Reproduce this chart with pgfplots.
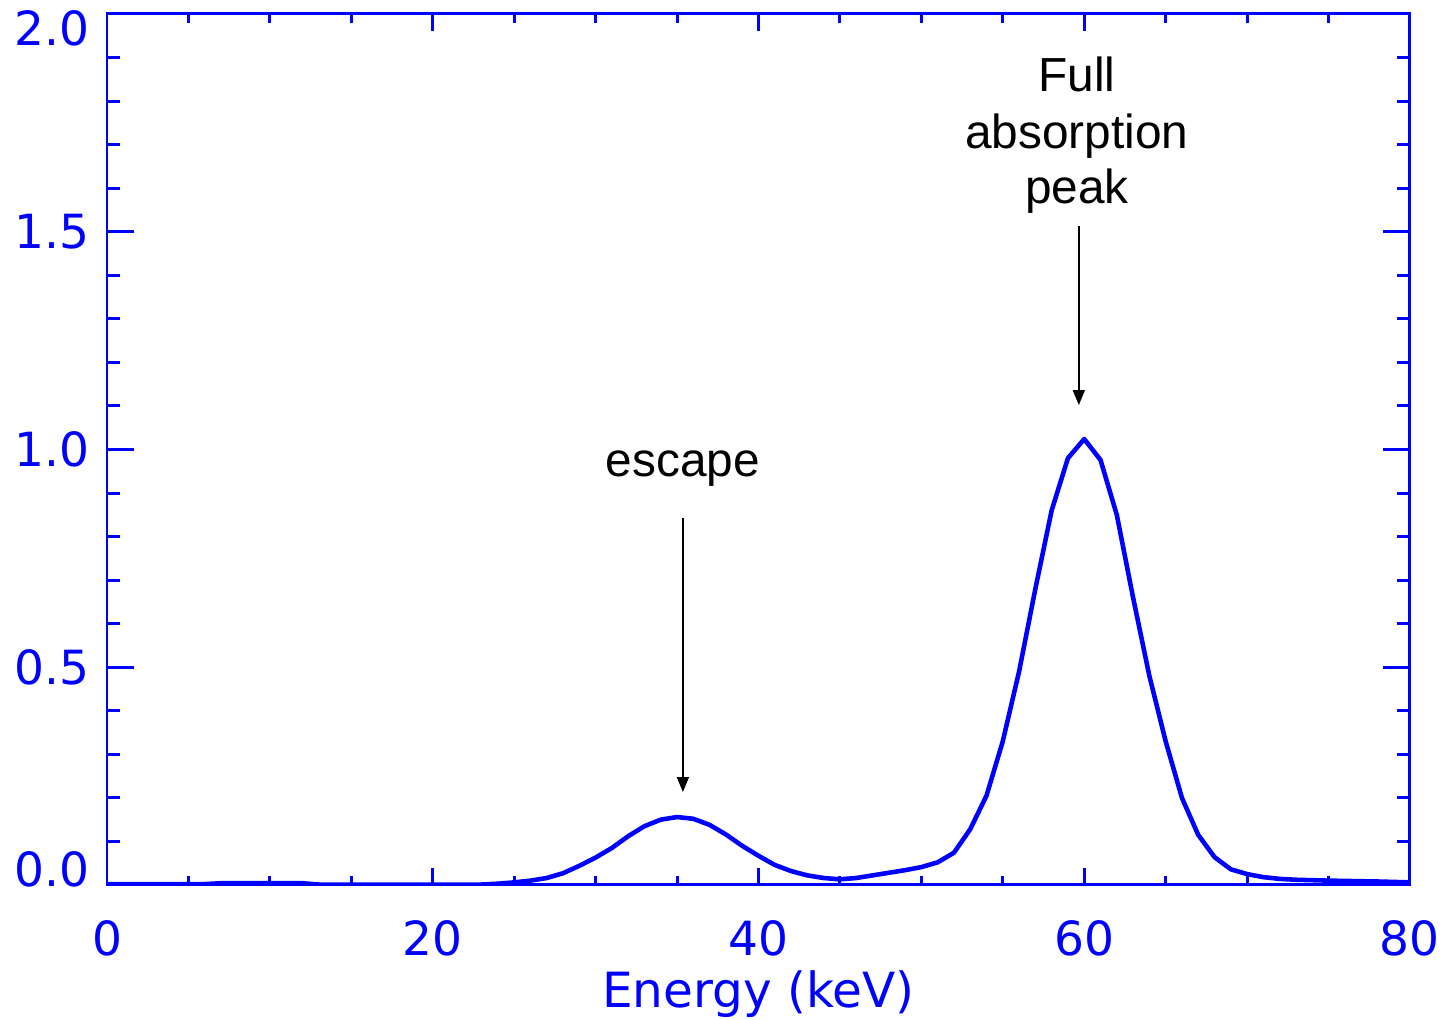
\documentclass[border=0pt]{standalone}
\usepackage{fontspec}
\setmainfont{Liberation Sans}
\newfontfamily\idlfont{DejaVu Sans}
\usepackage{pgfplots}
\pgfplotsset{compat=1.18}
\usetikzlibrary{arrows.meta}

\pgfplotstableread{
x y
0 0.002
6 0.002
7 0.004
12 0.004
13 0.001
23 0.001
24 0.003
25 0.006
26 0.010
27 0.016
28 0.027
29 0.044
30 0.063
31 0.085
32 0.112
33 0.135
34 0.150
35 0.156
36 0.152
37 0.138
38 0.116
39 0.090
40 0.067
41 0.046
42 0.032
43 0.022
44 0.016
45 0.013
46 0.016
47 0.022
48 0.028
49 0.034
50 0.041
51 0.052
52 0.074
53 0.128
54 0.205
55 0.330
56 0.490
57 0.680
58 0.860
59 0.980
60 1.024
61 0.976
62 0.850
63 0.660
64 0.480
65 0.330
66 0.200
67 0.115
68 0.064
69 0.036
70 0.025
71 0.018
72 0.014
73 0.012
75 0.010
78 0.008
80 0.006
}\spectrum

\pgfplotsset{
  idlbox/.style={
    scale only axis, width=130.3mm, height=87.1mm,
    xmin=0, xmax=80, ymin=0, ymax=2,
    axis line style={blue, line width=0.85pt},
    every tick/.style={blue, line width=0.85pt},
    tick align=inside,
    ticklabel style={font=\idlfont\fontsize{13.4}{15}\selectfont, text=blue, inner sep=0pt},
  },
}
\tikzset{note/.style={anchor=base, inner sep=0pt, font=\fontsize{13.6}{16}\selectfont}}

\begin{document}
\begin{tikzpicture}
\useasboundingbox (-10.7mm,-13.5mm) rectangle (133.8mm,88.5mm);
% x ticks, curve and annotations
\begin{axis}[idlbox,
    xtick={0,20,40,60,80}, xticklabels={0,20,40,60,80},
    minor x tick num=3,
    major tick length=1.7mm, minor tick length=0.9mm,
    xticklabel style={yshift=-3.5mm},
    ytick=\empty,
    xlabel={Energy (keV)},
    xlabel style={at={(axis description cs:0.5,0)}, anchor=north, yshift=-8.5mm,
                  inner sep=0pt, font=\idlfont\fontsize{13.8}{15}\selectfont, text=blue},
  ]
  \addplot[blue, line width=1.3pt, line join=round] table[x=x, y=y] {\spectrum};
  \draw[-{Triangle[width=1.2mm,length=1.5mm]}, line width=0.45pt]
    (axis cs:35.36,0.843) -- (axis cs:35.36,0.2135);
  \draw[-{Triangle[width=1.2mm,length=1.5mm]}, line width=0.45pt]
    (axis cs:59.67,1.513) -- (axis cs:59.67,1.102);
  \node[note] at (axis cs:35.36,0.939) {escape};
  \node[note] at (axis cs:59.55,1.821) {Full};
  \node[note] at (axis cs:59.55,1.692) {absorption};
  \node[note] at (axis cs:59.55,1.564) {peak};
\end{axis}
% y ticks
\begin{axis}[idlbox,
    xtick=\empty,
    ytick={0,0.5,1,1.5,2},
    yticklabels={\raisebox{1.6mm}[\height][0pt]{0.0},0.5,1.0,1.5,\raisebox{-1.4mm}[\height][0pt]{2.0}},
    minor y tick num=4,
    major tick length=2.7mm, minor tick length=1.3mm,
    yticklabel style={xshift=-1.7mm},
  ]
\end{axis}
\end{tikzpicture}
\end{document}
